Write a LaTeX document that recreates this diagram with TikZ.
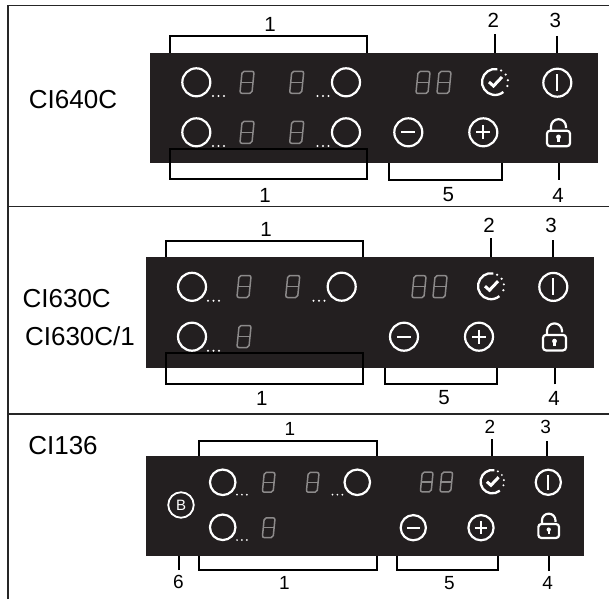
\documentclass[tikz,border=0pt]{standalone}
\usepackage{fontspec}
\setmainfont{Liberation Sans}
\definecolor{panelfill}{RGB}{35,31,32}
\definecolor{segment}{RGB}{140,138,138}
\tikzset{
    panel/.style={fill=panelfill, draw=none, inner sep=0pt, minimum width=#1},
    panel/.default=448pt,
    rule/.style={black!85, line width=1.3pt},
    lead/.style={black, line width=2.1pt},
    bracket/.style={black, line width=2.1pt, line join=miter},
    model/.style={inner sep=0pt, font=\fontsize{26}{26}\selectfont},
    num/.style={inner sep=0pt, font=\fontsize{20.5}{20.5}\selectfont},
    smallnum/.style={inner sep=0pt, font=\fontsize{19}{19}\selectfont},
    knob/.style={circle, draw=white, line width=2.2pt, inner sep=0pt, minimum size=#1},
    knob/.default=28pt,
    pics/digit/.style={code={
        \begin{scope}[xslant=0.1]
            \draw[segment, line width=1.5pt, rounded corners=2pt] (-6,-11) rectangle (6,11);
            \draw[segment, line width=1.5pt] (-6,0) -- (6,0);
        \end{scope}
    }},
    pics/dots/.style={code={
        \foreach \i in {0,5.5,11}
            \fill[white] (\i,0) circle (1.1);
    }},
    pics/timer/.style={code={
        \draw[white, line width=2.3pt] (-80:13) arc[start angle=-80, end angle=-310, radius=13];
        \foreach \a in {-62,-35,-8,18}
            \fill[white] (\a:13) circle (1.2);
        \draw[white, line width=3pt] (-6,0) -- (-1.5,4) -- (7,-5);
    }},
    pics/power/.style={code={
        \draw[white, line width=2.2pt] (0,0) circle (14);
        \draw[white, line width=2pt] (0,-8.5) -- (0,8.5);
    }},
    pics/minus/.style={code={
        \draw[white, line width=2.2pt] (0,0) circle (14);
        \draw[white, line width=2pt] (-7,0) -- (7,0);
    }},
    pics/plus/.style={code={
        \draw[white, line width=2.2pt] (0,0) circle (14);
        \draw[white, line width=2pt] (-7,0) -- (7,0) (0,-7) -- (0,7);
    }},
    pics/lock/.style={code={
        \draw[white, line width=2.2pt, rounded corners=3pt] (-11.5,0) rectangle (11.5,15.5);
        \draw[white, line width=2.2pt] (-7.5,0) -- (-7.5,-4) arc[start angle=180, end angle=360, radius=7.5] -- (7.5,-2.5);
        \fill[white] (0,6.2) circle (2.4);
        \fill[white] (-1.1,6.2) rectangle (1.1,11.5);
    }},
}
\begin{document}
\begin{tikzpicture}[x=1pt, y=-1pt]
    \useasboundingbox (0,0) rectangle (609,599);

    % Outer frame and dividers
    \coordinate (fa) at (8,599);
    \coordinate (fb) at (8,5.7);
    \coordinate (fc) at (609,5.7);
    \coordinate (da) at (8,206.8);
    \coordinate (db) at (609,206.8);
    \coordinate (dc) at (8,414);
    \coordinate (dd) at (609,414);
    \draw[rule] (fa) -- (fb) -- (fc);
    \draw[rule] (da) -- (db);
    \draw[rule] (dc) -- (dd);

    % CI640C
    \node[model] (modelA) at (73,99.3) {CI640C};
    \node[panel, minimum height=110pt] (panelA) at (374,108) {};
    \node[knob] (knobAa) at (196.3,82.3) {};
    \node[knob] (knobAb) at (196.3,132.3) {};
    \node[knob] (knobAc) at (346,82.3) {};
    \node[knob] (knobAd) at (346,132.3) {};
    \pic at (213,96) {dots};
    \pic at (213,146) {dots};
    \pic at (317.5,96) {dots};
    \pic at (317.5,146) {dots};
    \foreach \x in {247,296.7}
        \foreach \y in {82.3,132.3}
            \pic at (\x,\y) {digit};
    \foreach \x in {423,444}
        \pic at (\x,82.5) {digit};
    \coordinate (timerA) at (495,82);
    \coordinate (powerA) at (557.3,82.7);
    \coordinate (lockA) at (558.5,130.7);
    \pic at (timerA) {timer};
    \pic at (powerA) {power};
    \pic at (408.3,132.3) {minus};
    \pic at (483.3,132.3) {plus};
    \pic at (lockA) {lock};

    % Brackets and leaders
    \coordinate (tlA) at (170,36);
    \coordinate (trA) at (367,36);
    \coordinate (blA) at (170,179.3);
    \coordinate (brA) at (367,148.7);
    \coordinate (mlA) at (389.3,179.6);
    \coordinate (mrA) at (501.7,179.6);
    \coordinate (tipAb) at (494.7,34.3);
    \coordinate (tipAc) at (556.7,36);
    \coordinate (tipAd) at (559,179.6);
    \draw[bracket] (tlA |- panelA.north) -- (tlA) -- (trA) -- (trA |- panelA.north);
    \draw[bracket] (blA) rectangle (brA);
    \draw[bracket] (mlA |- panelA.south) -- (mlA) -- (mrA) -- (mrA |- panelA.south);
    \draw[lead] (tipAb) -- (tipAb |- panelA.north);
    \draw[lead] (tipAc) -- (tipAc |- panelA.north);
    \draw[lead] (tipAd) -- (tipAd |- panelA.south);
    \node[num] (numAa) at (270,24) {1};
    \node[num] (numAb) at (493.3,20) {2};
    \node[num] (numAc) at (555.3,20) {3};
    \node[num] (numAd) at (265,195) {1};
    \node[num] (numAe) at (448.3,195) {5};
    \node[num] (numAf) at (558,195) {4};

    % CI630C and CI630C/1
    \node[model] (modelB) at (66.7,298.3) {CI630C};
    \node[model] (modelC) at (80,336.7) {CI630C/1};
    \node[panel, minimum height=110.7pt] (panelB) at (370,312.3) {};
    \node[knob] (knobBa) at (192,286.8) {};
    \node[knob] (knobBb) at (192,336.7) {};
    \node[knob] (knobBc) at (341.7,286.7) {};
    \pic at (208,300.7) {dots};
    \pic at (208,350.7) {dots};
    \pic at (313.5,300.7) {dots};
    \pic at (244,286.5) {digit};
    \pic at (292.7,286.5) {digit};
    \pic at (244,336.5) {digit};
    \foreach \x in {419,440}
        \pic at (\x,286.7) {digit};
    \coordinate (timerB) at (491,286.2);
    \coordinate (powerB) at (553.3,286.9);
    \coordinate (lockB) at (554.5,334.9);
    \pic at (timerB) {timer};
    \pic at (powerB) {power};
    \pic at (404,336.7) {minus};
    \pic at (479,336.7) {plus};
    \pic at (lockB) {lock};

    \coordinate (tlB) at (165.7,240.7);
    \coordinate (trB) at (363.3,240.7);
    \coordinate (blB) at (165.7,384.3);
    \coordinate (brB) at (363.3,353);
    \coordinate (mlB) at (385,384.3);
    \coordinate (mrB) at (497.3,384.3);
    \coordinate (tipBb) at (491,238);
    \coordinate (tipBc) at (552.7,240);
    \coordinate (tipBd) at (555,384.3);
    \draw[bracket] (tlB |- panelB.north) -- (tlB) -- (trB) -- (trB |- panelB.north);
    \draw[bracket] (blB) rectangle (brB);
    \draw[bracket] (mlB |- panelB.south) -- (mlB) -- (mrB) -- (mrB |- panelB.south);
    \draw[lead] (tipBb) -- (tipBb |- panelB.north);
    \draw[lead] (tipBc) -- (tipBc |- panelB.north);
    \draw[lead] (tipBd) -- (tipBd |- panelB.south);
    \node[num] (numBa) at (266,229) {1};
    \node[num] (numBb) at (489,225.7) {2};
    \node[num] (numBc) at (551,225.7) {3};
    \node[num] (numBd) at (261.7,398) {1};
    \node[num] (numBe) at (444,398) {5};
    \node[num] (numBf) at (554,398) {4};

    % CI136
    \node[model] (modelD) at (63,445.7) {CI136};
    \node[panel=438pt, minimum height=99.7pt] (panelC) at (365,505.8) {};
    \node[knob=25.5pt, font=\fontsize{15}{15}\selectfont, text=white, line width=1.8pt] (boostC) at (181,505) {B};
    \node[knob=25.5pt] (knobCa) at (222.7,482.3) {};
    \node[knob=25.5pt] (knobCb) at (222.7,527.3) {};
    \node[knob=25.5pt] (knobCc) at (357.3,482.3) {};
    \pic[scale=.9] at (237,494.7) {dots};
    \pic[scale=.9] at (237,540) {dots};
    \pic[scale=.9] at (332.5,494.7) {dots};
    \pic[scale=.9] at (268.7,482.3) {digit};
    \pic[scale=.9] at (312.7,482.3) {digit};
    \pic[scale=.9] at (268.7,527.7) {digit};
    \foreach \x in {426.7,446.3}
        \pic[scale=.9] at (\x,482) {digit};
    \coordinate (timerC) at (492.3,481.7);
    \coordinate (powerC) at (548.3,482.3);
    \coordinate (lockC) at (548.7,524);
    \pic[scale=.9] at (timerC) {timer};
    \pic[scale=.9] at (powerC) {power};
    \pic[scale=.9] at (413.3,527.7) {minus};
    \pic[scale=.9] at (481,527.7) {plus};
    \pic[scale=.9] at (lockC) {lock};

    \coordinate (tlC) at (199,441);
    \coordinate (trC) at (377,441);
    \coordinate (blC) at (199,570);
    \coordinate (brC) at (377,570);
    \coordinate (mlC) at (396.7,570);
    \coordinate (mrC) at (498,570);
    \coordinate (tipCb) at (491.7,439.3);
    \coordinate (tipCc) at (547,441);
    \coordinate (tipCd) at (548.7,571);
    \coordinate (tipCe) at (179.3,570);
    \draw[bracket] (tlC |- panelC.north) -- (tlC) -- (trC) -- (trC |- panelC.north);
    \draw[bracket] (blC |- panelC.south) -- (blC) -- (brC) -- (brC |- panelC.south);
    \draw[bracket] (mlC |- panelC.south) -- (mlC) -- (mrC) -- (mrC |- panelC.south);
    \draw[lead] (tipCb) -- (tipCb |- panelC.north);
    \draw[lead] (tipCc) -- (tipCc |- panelC.north);
    \draw[lead] (tipCd) -- (tipCd |- panelC.south);
    \draw[lead] (tipCe) -- (tipCe |- panelC.south);
    \node[smallnum] (numCa) at (290,429.3) {1};
    \node[smallnum] (numCb) at (490,427.3) {2};
    \node[smallnum] (numCc) at (545.7,427.3) {3};
    \node[smallnum] (numCd) at (284.3,583.3) {1};
    \node[smallnum] (numCe) at (449.3,583.3) {5};
    \node[smallnum] (numCf) at (547.7,583.3) {4};
    \node[smallnum] (numCg) at (178.3,582.3) {6};
\end{tikzpicture}
\end{document}
